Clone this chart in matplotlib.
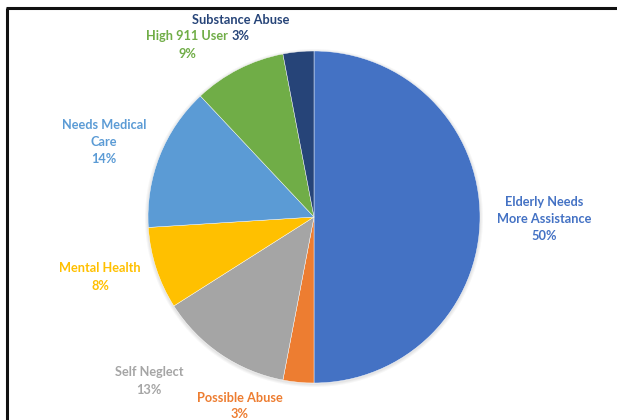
import matplotlib
matplotlib.use("Agg")
import matplotlib.pyplot as plt

# slices, clockwise from 12 o'clock
categories = ["Elderly Needs\nMore Assistance", "Possible Abuse", "Self Neglect",
              "Mental Health", "Needs Medical\nCare", "High 911 User", "Substance Abuse"]
percents = [50, 3, 13, 8, 14, 9, 3]
colors = ["#4472C4", "#ED7D31", "#A5A5A5", "#FFC000", "#5B9BD5", "#70AD47", "#264478"]

# label anchor points in pixel space (x, y from top)
label_pos = [(544, 219), (240, 406), (149, 381), (100, 277), (104, 142), (187, 45), (241, 28)]
line_step = 17

W, H = 617, 420
fig = plt.figure(figsize=(W / 100, H / 100), dpi=100)
ax = fig.add_axes([0, 0, 1, 1])

cx, cy, r = 314, H - 217, 166

# faint soft shadow behind the pie
for k, a in enumerate([0.03, 0.03, 0.04]):
    ax.add_patch(plt.Circle((cx, cy - 1), r + 3 - k, color="black", alpha=a, lw=0, zorder=0))

ax.pie(percents, colors=colors, startangle=90, counterclock=False,
       center=(cx, cy), radius=r, frame=True,
       wedgeprops=dict(linewidth=0.3, edgecolor="white"))
ax.set_xlim(0, W)
ax.set_ylim(0, H)
ax.set_aspect("equal")
ax.axis("off")

for name, pct, col, (x, y) in zip(categories, percents, colors, label_pos):
    lines = name.split("\n") + [f"{pct}%"]
    n = len(lines)
    for i, s in enumerate(lines):
        yy = y + (i - (n - 1) / 2) * line_step
        ax.text(x, H - yy, s, color=col, ha="center", va="center",
                fontsize=9.2, fontweight="bold", family="Lato")

# frame lines (top and left) like the screenshot
ax.plot([6, W], [H - 7.5, H - 7.5], color="#111111", lw=2.2, solid_capstyle="butt")
ax.plot([7, 7], [0, H - 7.5], color="#111111", lw=2.2, solid_capstyle="butt")

fig.savefig("out.png", dpi=100)
